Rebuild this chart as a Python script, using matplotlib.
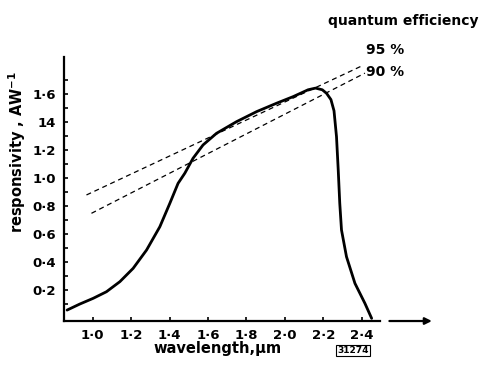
import numpy as np
import matplotlib
matplotlib.use('Agg')
import matplotlib.pyplot as plt
from matplotlib import rc

font = {'family': 'DejaVu Sans', 'weight': 'bold', 'size': 9.5}
rc('font', **font)

# responsivity curve
wl = [0.866, 0.932, 1.002, 1.071, 1.141, 1.21, 1.28, 1.349, 1.401, 1.444,
      1.479, 1.522, 1.574, 1.644, 1.748, 1.853, 1.957, 2.043, 2.121, 2.16,
      2.195, 2.217, 2.24, 2.256, 2.269, 2.278, 2.286, 2.295, 2.321, 2.365,
      2.417, 2.452]
resp = [0.057, 0.100, 0.141, 0.188, 0.26, 0.355, 0.486, 0.652, 0.819, 0.962,
        1.034, 1.141, 1.236, 1.319, 1.402, 1.474, 1.534, 1.581, 1.630, 1.642,
        1.630, 1.605, 1.56, 1.48, 1.295, 1.057, 0.819, 0.629, 0.438, 0.248,
        0.105, -0.002]

# quantum efficiency lines (end points)
qe95_wl = [0.967, 2.40]
qe95_r = [0.879, 1.80]
qe90_wl = [0.993, 2.417]
qe90_r = [0.748, 1.749]

xticks = [1.0, 1.2, 1.4, 1.6, 1.8, 2.0, 2.2, 2.4]
xlabels = ['1·0', '1·2', '1·4', '1·6', '1·8', '2·0', '2·2', '2·4']
yticks = [0.2, 0.4, 0.6, 0.8, 1.0, 1.2, 1.4, 1.6]
ylabels = ['0·2', '0·4', '0·6', '0·8', '1·0', '1·2', '14', '1·6']

fig = plt.figure(figsize=(4.83, 3.65), dpi=100)
ax = fig.add_axes([0.1325, 0.1205, 0.7785, 0.7233])
ax.set_xlim(0.85, 2.808)
ax.set_ylim(-0.021, 1.864)

ax.plot(wl, resp, color='black', lw=2.0, solid_capstyle='round',
        solid_joinstyle='round')
ax.plot(qe95_wl, qe95_r, color='black', lw=0.9, ls=(0, (4, 3)))
ax.plot(qe90_wl, qe90_r, color='black', lw=0.9, ls=(0, (4, 3)))

for s in ['top', 'right']:
    ax.spines[s].set_visible(False)
ax.spines['left'].set_linewidth(1.6)
ax.spines['bottom'].set_linewidth(1.6)
ax.spines['bottom'].set_bounds(0.85, 2.495)
ax.annotate('', xy=(2.78, -0.021), xytext=(2.53, -0.021),
            arrowprops=dict(arrowstyle='-|>', color='black', lw=1.6,
                            mutation_scale=10))

ax.set_xticks(xticks)
ax.set_xticklabels(xlabels)
ax.set_yticks(yticks)
ax.set_yticklabels(ylabels)
ax.set_yticks(np.arange(0.1, 1.8, 0.2), minor=True)
ax.tick_params(axis='both', which='both', direction='in', length=3,
               width=1.2, pad=6)

fig.text(0.035, 0.583, 'responsivity , AW$^{-1}$', rotation=90,
         ha='center', va='center', fontsize=10.5)
fig.text(0.45, 0.025, 'wavelength,μm', ha='center', va='bottom',
         fontsize=10.5)
fig.text(0.731, 0.027, '31274', ha='center', va='bottom', fontsize=6.5,
         bbox=dict(boxstyle='square,pad=0.15', fc='white', ec='black',
                   lw=0.8))
fig.text(0.835, 0.942, 'quantum efficiency', ha='center', va='center',
         fontsize=10)
ax.text(2.425, 1.914, '95 %', ha='left', va='center', fontsize=10)
ax.text(2.425, 1.757, '90 %', ha='left', va='center', fontsize=10)

plt.savefig('out.png', dpi=100)
